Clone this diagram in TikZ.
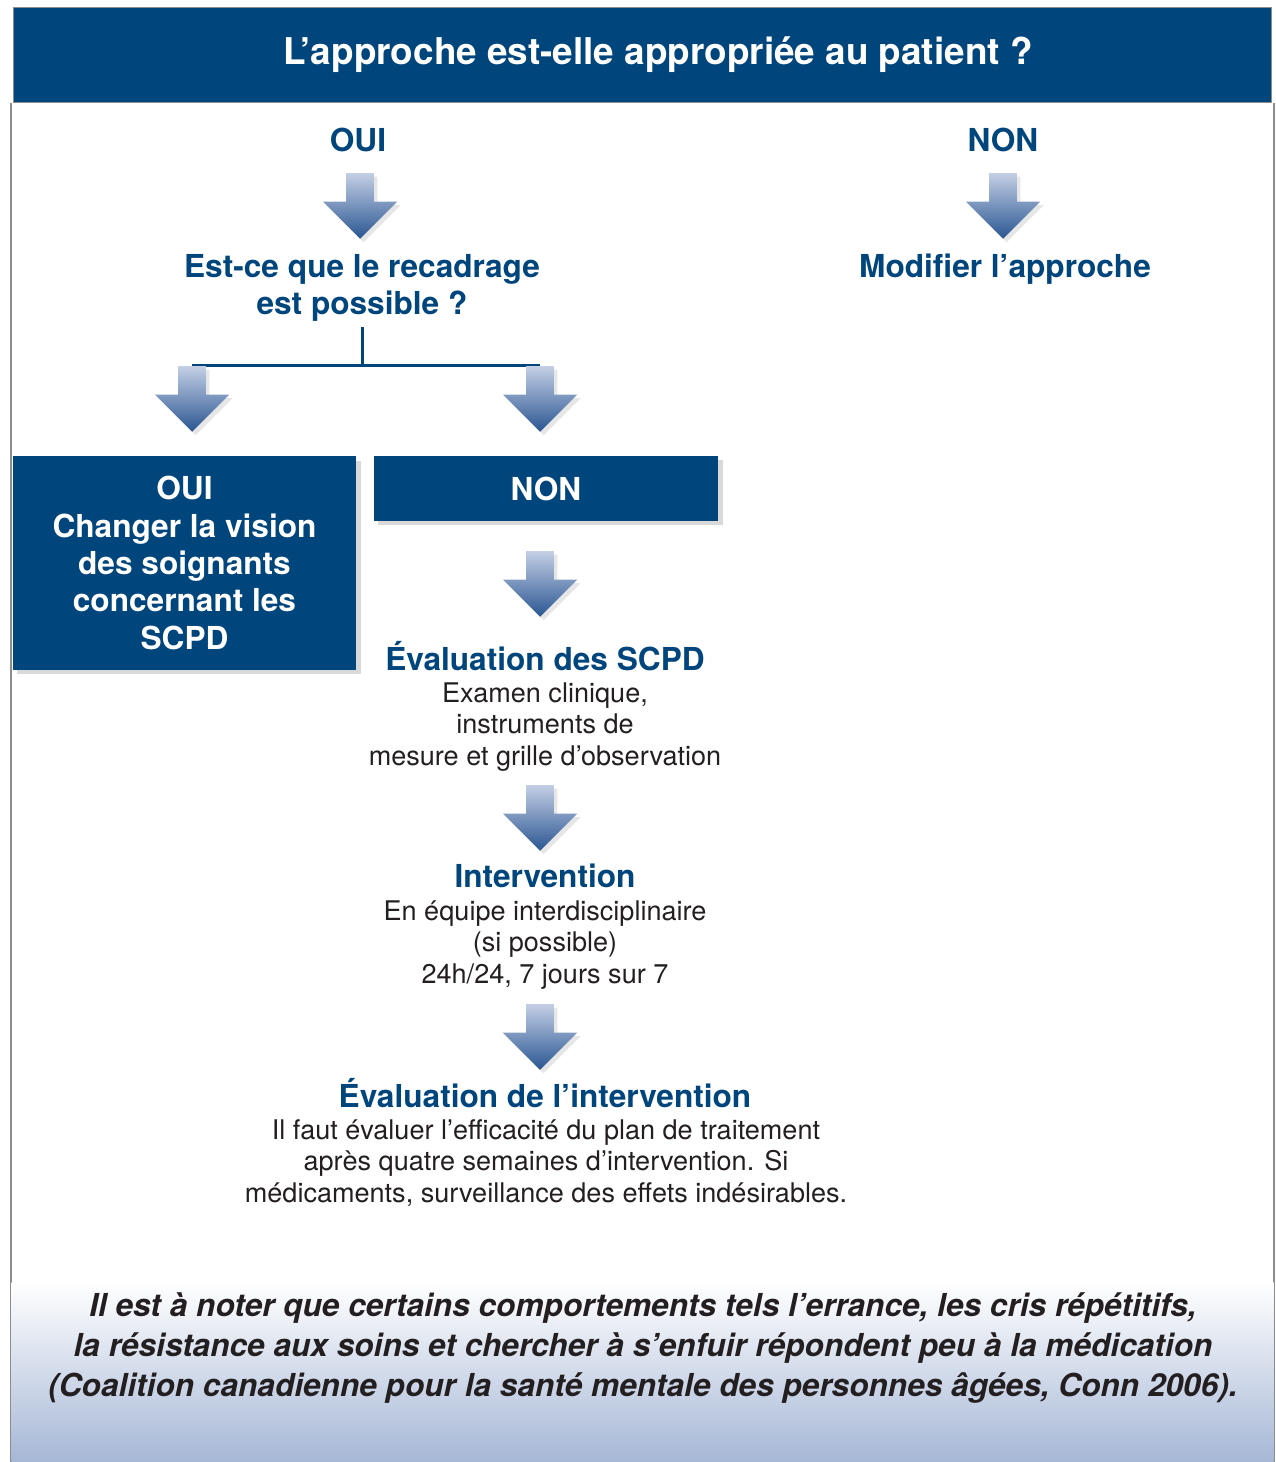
\documentclass[tikz,border=0pt]{standalone}
\usepackage{fontspec}
\setmainfont{TeX Gyre Heros}
\usetikzlibrary{positioning,shapes.arrows,shadows,backgrounds}
\definecolor{navy}{RGB}{0,69,124}
\definecolor{arrowlight}{RGB}{196,207,229}
\definecolor{arrowdark}{RGB}{42,86,146}
\definecolor{fadeblue}{RGB}{166,183,214}
\definecolor{framegray}{RGB}{140,140,140}
\definecolor{bodytext}{RGB}{35,31,32}

\begin{document}
\begin{tikzpicture}[x=0.02cm, y=-0.02cm,
    bluetitle/.style = {text=navy, font=\fontsize{18}{21}\selectfont\bfseries, align=center},
    bodytxt/.style = {text=bodytext, font=\fontsize{15.4}{18.1}\selectfont, align=center},
    navybox/.style = {fill=navy, text=white, font=\fontsize{18}{21.3}\selectfont\bfseries, align=center, inner sep=0pt,
        drop shadow={shadow xshift=2.5pt, shadow yshift=-2.5pt, opacity=0.3}},
    fatarrow/.style = {single arrow, shape border rotate=270, minimum height=37.4pt, minimum width=41.95pt,
        single arrow head extend=13.3pt, inner xsep=7.65pt, inner ysep=0pt, top color=arrowlight, bottom color=arrowdark,
        drop shadow={shadow xshift=2pt, shadow yshift=-2pt, opacity=0.2}},
    link/.style = {navy, line width=1.7pt}]
    \useasboundingbox (0,0) rectangle (1275,1462);
    \draw[framegray, line width=0.6pt] (11,103) -- (11,1462) (1274,103) -- (1274,1462);
    \shade[top color=white, bottom color=fadeblue] (11.5,1282) rectangle (1273.5,1462);
    \node[fill=navy, draw=framegray, line width=0.6pt, minimum width=716pt, minimum height=54.4pt] (header) at (642.5,55) {};
    \node[text=white, font=\fontsize{21}{25}\selectfont\bfseries] (question) at (658,55) {L’approche est-elle appropriée au patient ?};

    \node[bluetitle] (oui1) at (358,140) {OUI};
    \node[bluetitle] (non1) at (1003,140) {NON};
    \node[fatarrow] (a1) at (360,199) {};
    \node[fatarrow] (a2) at (1003,199) {};
    \node[bluetitle] (recadrage) at (362,287.5) {Est-ce que le recadrage\\est possible ?};
    \node[bluetitle] (modif) at (1005,269) {Modifier l’approche};

    \node[fatarrow] (la) at (192,392) {};
    \node[fatarrow] (ra) at (540,392) {};
    \begin{scope}[on background layer]
        \draw[link] (recadrage.south) -- (recadrage.south |- la.tail);
        \draw[link] (la.tail) -- (ra.tail);
    \end{scope}

    \node[navybox, minimum width=195.6pt, minimum height=121.3pt] (oui2) at (184.5,563)
        {OUI\\Changer la vision\\des soignants\\concernant les\\SCPD};
    \node[navybox, minimum width=196.2pt, minimum height=36.9pt] (non2) at (546,488.5) {NON};

    \node[fatarrow] (a3) at (540,577) {};
    \node[bluetitle] (eval1) at (545,656) {Évaluation des SCPD};
    \node[bodytxt] (eval1txt) at (545,727) {Examen clinique,\\instruments de\\mesure et grille d’observation};

    \node[fatarrow] (a4) at (540,811) {};
    \node[bluetitle] (interv) at (545,876) {Intervention};
    \node[bodytxt] (intervtxt) at (545,945) {En équipe interdisciplinaire\\(si possible)\\24h/24, 7 jours sur 7};

    \node[fatarrow] (a5) at (540,1030) {};
    \node[bluetitle] (eval2) at (545,1093) {Évaluation de l’intervention};
    \node[bodytxt] (eval2txt) at (546,1163) {Il faut évaluer l’efficacité du plan de traitement\\après quatre semaines d’intervention. Si\\médicaments, surveillance des effets indésirables.};

    \node[text=bodytext, align=center, font=\fontsize{18}{22.7}\selectfont\bfseries\itshape] (note) at (643,1348)
        {Il est à noter que certains comportements tels l’errance, les cris répétitifs,\\la résistance aux soins et chercher à s’enfuir répondent peu à la médication\\(Coalition canadienne pour la santé mentale des personnes âgées, Conn 2006).};
\end{tikzpicture}
\end{document}
